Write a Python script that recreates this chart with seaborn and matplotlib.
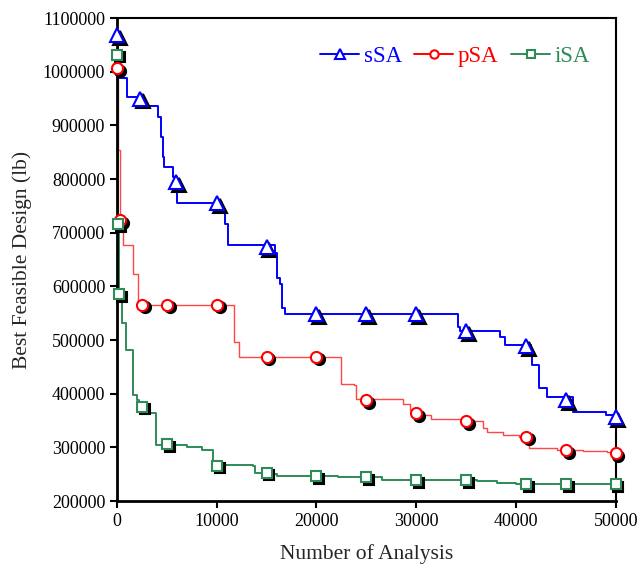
#!/usr/bin/env python3

# Convergence history of three SA variants
import numpy as np
import pandas as pd
import matplotlib
matplotlib.use("Agg")
import matplotlib.pyplot as plt
from matplotlib.lines import Line2D
from matplotlib.transforms import offset_copy
import seaborn as sns

sns.set_style("white")
plt.rcParams['font.family'] = ['Liberation Serif', 'DejaVu Serif']

# sSA step curve (x where a new level starts, level)
ssa_x = [0, 50, 970, 2300, 4080, 4380, 4580, 4730, 5570, 6000, 10530, 10800, 11130,
         15820, 16000, 16330, 16590, 16870, 34220, 34390, 38400, 38900, 41480, 41580,
         42300, 43080, 45750, 49000, 50000]
ssa_y = [1068000, 988000, 953000, 936000, 916000, 879000, 842000, 823000, 804000, 756000,
         745000, 717000, 677000, 663000, 615000, 605000, 559000, 548000, 525000, 517000,
         505000, 491000, 472000, 453000, 410000, 393000, 366500, 360000, 357000]
ssa_mx = [0, 2300, 5900, 10000, 15000, 20000, 25000, 30000, 35000, 41000, 45000, 50000]
ssa_my = [1068000, 950000, 795000, 756000, 674000, 548000, 548000, 548000, 517000,
          489000, 388000, 357000]

# pSA step curve
psa_x = [0, 120, 250, 630, 1640, 2140, 11700, 12270, 22500, 23800, 24000, 28700, 29400,
         30200, 31500, 34500, 36700, 37100, 38700, 40300, 41340, 44100, 46750, 49100, 50000]
psa_y = [1007500, 854000, 724000, 677000, 624000, 566000, 497000, 469000, 419000, 416000,
         390000, 381000, 370000, 360000, 352000, 349000, 337000, 329000, 323000, 320000,
         298000, 296000, 294000, 292000, 290000]
psa_mx = [0, 300, 2500, 5000, 10000, 15000, 20000, 25000, 30000, 35000, 41000, 45000, 50000]
psa_my = [1007500, 724000, 566000, 566000, 566000, 469000, 469000, 388000, 363500,
          349000, 320000, 295000, 290000]

# iSA step curve
isa_x = [0, 60, 200, 470, 850, 1640, 1970, 2200, 2980, 3910, 6990, 8490, 9660, 13660,
         13830, 15670, 16000, 22190, 26540, 36060, 38070, 40000, 50000]
isa_y = [1032000, 716000, 586000, 532000, 481000, 397000, 388000, 376000, 364600, 304400,
         301200, 295000, 267000, 265000, 253000, 250000, 247000, 244000, 239200, 237300,
         234200, 232000, 231500]
isa_mx = [0, 130, 230, 2500, 5000, 10000, 15000, 20000, 25000, 30000, 35000, 41000,
          45000, 50000]
isa_my = [1032000, 716000, 586000, 376000, 305600, 266000, 253000, 247000, 244000,
          239000, 239000, 231700, 231500, 231500]

# name, curve, markers, marker colour, line colour, marker, size, line width
series = [
    ('sSA', ssa_x, ssa_y, ssa_mx, ssa_my, '#0000FF', '#0000FF', '^', 9.5, 1.4),
    ('pSA', psa_x, psa_y, psa_mx, psa_my, '#FF0000', '#FF4545', 'o', 8.0, 1.0),
    ('iSA', isa_x, isa_y, isa_mx, isa_my, '#2E8B57', '#2E8B57', 's', 7.5, 1.4),
]

fig = plt.figure(figsize=(6.43, 5.69), dpi=100)
ax = fig.add_axes([0.182, 0.1195, 0.7755, 0.8485])
shadow = offset_copy(ax.transData, fig=fig, x=2.0, y=-2.0, units='points')

handles = []
for name, x, y, mx, my, col, lcol, mk, ms, lw in series:
    df = pd.DataFrame({'x': x, 'y': y})
    sns.lineplot(data=df, x='x', y='y', ax=ax, color=lcol, lw=lw, sort=False,
                 estimator=None, drawstyle='steps-post', zorder=2)
    ax.plot(mx, my, linestyle='none', marker=mk, ms=ms, mfc='k', mec='k', mew=1.5,
            transform=shadow, zorder=3, clip_on=False)
    ax.plot(mx, my, linestyle='none', marker=mk, ms=ms, mfc='white', mec=col, mew=1.5,
            zorder=4, clip_on=False)
    handles.append(Line2D([], [], color=col, lw=1.4, marker=mk, ms=ms * 0.75,
                          mfc='white', mec=col, mew=1.5, label=name))

ax.set_xlim(0, 50000)
ax.set_ylim(200000, 1100000)
ax.set_xticks(np.arange(0, 50001, 10000))
ax.set_yticks(np.arange(200000, 1100001, 100000))
ax.ticklabel_format(style='plain', useOffset=False)
ax.tick_params(axis='both', which='major', direction='out', length=5, width=1.5,
               labelsize=13, colors='k', top=False, right=False, left=True, bottom=True)
for side in ['left', 'bottom']:
    ax.spines[side].set_linewidth(2.0)
for side in ['top', 'right']:
    ax.spines[side].set_linewidth(1.5)
for sp in ax.spines.values():
    sp.set_color('k')

ax.set_xlabel('Number of Analysis', fontsize=15.5, labelpad=10)
ax.set_ylabel('Best Feasible Design (lb)', fontsize=15.5, labelpad=8)

leg = ax.legend(handles=handles, loc='upper right', ncol=3, frameon=False, fontsize=16.5,
                handlelength=1.7, handletextpad=0.2, columnspacing=0.55,
                bbox_to_anchor=(0.99, 0.985))
for txt, s in zip(leg.get_texts(), series):
    txt.set_color(s[5])

fig.savefig('out.png', dpi=100)
